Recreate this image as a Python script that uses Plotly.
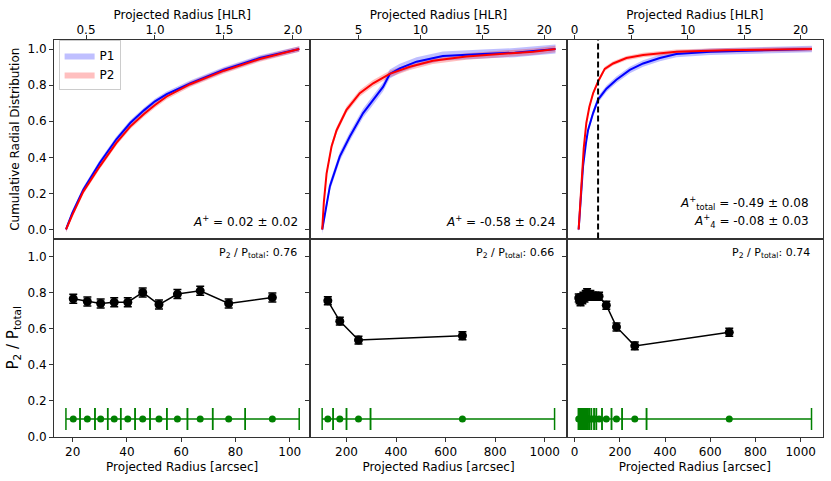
import plotly.graph_objects as go

FONT = "DejaVu Sans"

# ---------------- Top row: cumulative radial distributions (x in HLR) ----------------
TL_P1_X = [0.355, 0.40, 0.48, 0.60, 0.72, 0.82, 0.92, 1.00, 1.085, 1.255, 1.50, 1.76, 2.046]
TL_P1_Y = [0.00, 0.09, 0.22, 0.37, 0.50, 0.59, 0.66, 0.71, 0.75, 0.81, 0.885, 0.95, 1.00]
TL_P2_X = [0.355, 0.40, 0.48, 0.60, 0.72, 0.82, 0.92, 1.00, 1.085, 1.255, 1.50, 1.76, 2.046]
TL_P2_Y = [0.00, 0.08, 0.21, 0.35, 0.48, 0.57, 0.64, 0.69, 0.737, 0.805, 0.88, 0.945, 1.00]

TM_P1_X = [2.07, 2.40, 2.69, 3.49, 4.30, 5.37, 6.00, 6.98, 7.52, 8.33, 9.68, 11.8, 15.0, 17.6, 20.9]
TM_P1_Y = [0.00, 0.13, 0.24, 0.405, 0.515, 0.645, 0.70, 0.79, 0.862, 0.893, 0.93, 0.961, 0.972, 0.98, 1.00]
TM_P2_X = [2.07, 2.20, 2.42, 2.82, 3.23, 4.03, 5.10, 6.18, 7.52, 9.14, 11.0, 13.7, 16.4, 19.1, 20.9]
TM_P2_Y = [0.00, 0.15, 0.31, 0.46, 0.55, 0.663, 0.755, 0.81, 0.862, 0.902, 0.935, 0.958, 0.972, 0.985, 1.00]

TR_P1_X = [0.35, 0.50, 0.74, 1.00, 1.18, 1.63, 2.07, 2.81, 3.69, 4.88, 6.06, 7.54, 9.0, 12.0, 21.0]
TR_P1_Y = [0.00, 0.15, 0.35, 0.48, 0.55, 0.645, 0.72, 0.78, 0.83, 0.884, 0.92, 0.95, 0.972, 0.985, 1.00]
TR_P2_X = [0.35, 0.45, 0.59, 0.80, 1.03, 1.30, 1.63, 2.07, 2.66, 3.40, 4.58, 6.06, 9.0, 13.4, 21.0]
TR_P2_Y = [0.00, 0.10, 0.24, 0.45, 0.59, 0.68, 0.755, 0.82, 0.89, 0.92, 0.95, 0.967, 0.985, 0.993, 1.00]

# band half-widths (uncertainty envelopes)
TL_P1_ERR, TL_P2_ERR = 0.015, 0.015
TM_P1_ERR, TM_P2_ERR = 0.025, 0.018
TR_P1_ERR, TR_P2_ERR = 0.018, 0.012

TR_VLINE_HLR = 2.07

TOP_TEXT = ["<i>A</i><sup>+</sup> = 0.02 ± 0.02",
            "<i>A</i><sup>+</sup> = -0.58 ± 0.24"]
TR_TEXT1 = "<i>A</i><sup>+</sup><sub>total</sub> = -0.49 ± 0.08"
TR_TEXT2 = "<i>A</i><sup>+</sup><sub>4</sub> = -0.08 ± 0.03"

# ---------------- Bottom row: P2 / Ptotal vs radius (arcsec) ----------------
BL_X = [20.2, 25.4, 30.3, 35.3, 40.3, 45.8, 51.8, 58.6, 67.0, 77.5, 93.6]
BL_Y = [0.766, 0.751, 0.740, 0.747, 0.747, 0.801, 0.734, 0.792, 0.810, 0.740, 0.773]
BL_E = [0.025, 0.025, 0.025, 0.025, 0.025, 0.025, 0.025, 0.025, 0.025, 0.025, 0.025]
BL_EDGES = [17.5, 22.7, 28.2, 32.9, 37.7, 43.0, 48.5, 54.7, 62.3, 71.6, 83.6, 103.5]

BM_X = [124.6, 173.0, 248.4, 668.0]
BM_Y = [0.755, 0.642, 0.537, 0.561]
BM_E = [0.022, 0.022, 0.022, 0.022]
BM_EDGES = [101.7, 146.0, 200.0, 297.0, 1040.0]

BR_X = [18, 22, 26, 30, 34, 38.5, 43.5, 49, 55, 61.5, 69.5, 80, 91, 108, 140, 185, 266, 684]
BR_Y = [0.77, 0.76, 0.75, 0.77, 0.76, 0.78, 0.77, 0.79, 0.80, 0.78, 0.79, 0.78, 0.78, 0.78,
        0.73, 0.61, 0.505, 0.58]
BR_E = [0.022] * 18
BR_EDGES = [16, 20, 24, 28, 32, 36, 41, 46, 52, 58, 65, 74, 86, 96, 121, 163, 210, 318, 1048]

BIN_Y = 0.1
FRACS = ["0.76", "0.66", "0.74"]

# ---------------- axes ranges / ticks ----------------
TOP_XRANGES = [[0.268, 2.126], [1.11, 21.8], [-0.71, 21.98]]
TOP_XTICKS = [[0.5, 1.0, 1.5, 2.0], [5, 10, 15, 20], [0, 5, 10, 15, 20]]
TOP_XFMT = [".1f", "d", "d"]
BOT_XRANGES = [[13.1, 107.6], [54.0, 1088.8], [-35.4, 1098.8]]
BOT_XTICKS = [[20, 40, 60, 80, 100], [200, 400, 600, 800, 1000], [0, 200, 400, 600, 800, 1000]]

BLUE = "#0000ff"
RED = "#ff0000"
BLUE_FILL = "rgba(0,0,255,0.25)"
RED_FILL = "rgba(255,0,0,0.25)"
GREEN = "#008000"
AXC = "#333333"

fig = go.Figure()


def add_band(x, y, hw, fill, name, xa, ya, showleg):
    up = [v + hw for v in y]
    lo = [v - hw for v in y]
    fig.add_trace(go.Scatter(x=list(x) + list(x)[::-1], y=up + lo[::-1], fill="toself",
                             fillcolor=fill, line=dict(width=0), mode="lines", name=name,
                             showlegend=showleg, xaxis=xa, yaxis=ya, hoverinfo="skip"))


def add_line(x, y, color, xa, ya):
    fig.add_trace(go.Scatter(x=x, y=y, mode="lines", line=dict(color=color, width=2),
                             showlegend=False, xaxis=xa, yaxis=ya))


tops = [
    (TL_P1_X, TL_P1_Y, TL_P1_ERR, TL_P2_X, TL_P2_Y, TL_P2_ERR),
    (TM_P1_X, TM_P1_Y, TM_P1_ERR, TM_P2_X, TM_P2_Y, TM_P2_ERR),
    (TR_P1_X, TR_P1_Y, TR_P1_ERR, TR_P2_X, TR_P2_Y, TR_P2_ERR),
]
for i, (x1, y1, e1, x2, y2, e2) in enumerate(tops):
    xa = "x" if i == 0 else f"x{i+1}"
    ya = "y" if i == 0 else f"y{i+1}"
    add_band(x1, y1, e1, BLUE_FILL, "P1", xa, ya, i == 0)
    add_band(x2, y2, e2, RED_FILL, "P2", xa, ya, i == 0)
    add_line(x1, y1, BLUE, xa, ya)
    add_line(x2, y2, RED, xa, ya)

bots = [(BL_X, BL_Y, BL_E, BL_EDGES), (BM_X, BM_Y, BM_E, BM_EDGES), (BR_X, BR_Y, BR_E, BR_EDGES)]
for i, (x, y, e, edges) in enumerate(bots):
    xa = f"x{i+4}"
    ya = f"y{i+4}"
    plus = [edges[k + 1] - x[k] for k in range(len(x))]
    minus = [x[k] - edges[k] for k in range(len(x))]
    fig.add_trace(go.Scatter(
        x=x, y=[BIN_Y] * len(x), mode="markers",
        marker=dict(color=GREEN, size=7),
        error_x=dict(type="data", array=plus, arrayminus=minus, symmetric=False,
                     color=GREEN, thickness=1.5, width=11),
        showlegend=False, xaxis=xa, yaxis=ya))
    fig.add_trace(go.Scatter(
        x=x, y=y, mode="lines+markers",
        line=dict(color="black", width=1.5),
        marker=dict(color="black", size=9),
        error_y=dict(type="data", array=e, color="black", thickness=1.5, width=4),
        showlegend=False, xaxis=xa, yaxis=ya))

layout = dict(
    width=831, height=481,
    margin=dict(l=54, r=8, t=40, b=44),
    paper_bgcolor="white", plot_bgcolor="white",
    font=dict(family=FONT, size=12, color="black"),
    showlegend=True,
    legend=dict(x=0.006, y=1.0, xanchor="left", yanchor="top",
                bgcolor="rgba(255,255,255,0.8)", bordercolor="#cccccc", borderwidth=1,
                font=dict(size=12, family=FONT), itemwidth=30, tracegroupgap=0),
)

doms = [[0.0, 1 / 3], [1 / 3, 2 / 3], [2 / 3, 1.0]]
common = dict(showline=True, linecolor=AXC, linewidth=1, mirror=True, showgrid=False,
              zeroline=False, ticks="outside", ticklen=4, tickwidth=1, tickcolor=AXC,
              tickfont=dict(size=12, family=FONT), automargin=False)

for i in range(3):
    xk = "xaxis" if i == 0 else f"xaxis{i+1}"
    yk = "yaxis" if i == 0 else f"yaxis{i+1}"
    ya_ref = "y" if i == 0 else f"y{i+1}"
    xa_ref = "x" if i == 0 else f"x{i+1}"
    layout[xk] = dict(common, domain=doms[i], anchor=ya_ref, side="top",
                      range=TOP_XRANGES[i], tickvals=TOP_XTICKS[i], tickformat=TOP_XFMT[i],
                      ticklabelstandoff=-4,
                      title=dict(text="Projected Radius [HLR]", standoff=1,
                                 font=dict(size=12, family=FONT)))
    layout[yk] = dict(common, domain=[0.5, 1.0], anchor=xa_ref, range=[-0.05, 1.05],
                      tickvals=[0, 0.2, 0.4, 0.6, 0.8, 1.0], tickformat=".1f",
                      showticklabels=(i == 0))
    if i == 0:
        layout[yk]["title"] = dict(text="Cumulative Radial Distribution", standoff=5,
                                   font=dict(size=12, family=FONT))
    bxk = f"xaxis{i+4}"
    byk = f"yaxis{i+4}"
    layout[bxk] = dict(common, domain=doms[i], anchor=f"y{i+4}", side="bottom",
                       range=BOT_XRANGES[i], tickvals=BOT_XTICKS[i], tickformat="d",
                       title=dict(text="Projected Radius [arcsec]", standoff=4,
                                  font=dict(size=12, family=FONT)))
    layout[byk] = dict(common, domain=[0.0, 0.5], anchor=f"x{i+4}", range=[0, 1.1],
                       tickvals=[0, 0.2, 0.4, 0.6, 0.8, 1.0], tickformat=".1f",
                       showticklabels=(i == 0))
    if i == 0:
        layout[byk]["title"] = dict(text="P<sub>2</sub> / P<sub>total</sub>", standoff=5,
                                    font=dict(size=15, family=FONT))

fig.update_layout(**layout)

# dashed vertical line in top-right panel
fig.add_shape(type="line", xref="x3", yref="y3 domain", x0=TR_VLINE_HLR, x1=TR_VLINE_HLR,
              y0=0, y1=1, line=dict(color="black", width=2, dash="6px,3px"))

ann_font = dict(size=12, family=FONT, color="black")
fig.add_annotation(text=TOP_TEXT[0], xref="x domain", yref="y", x=1, y=0.046,
                   xanchor="right", yanchor="middle", xshift=-10, showarrow=False, font=ann_font)
fig.add_annotation(text=TOP_TEXT[1], xref="x2 domain", yref="y2", x=1, y=0.046,
                   xanchor="right", yanchor="middle", xshift=-10, showarrow=False, font=ann_font)
fig.add_annotation(text=TR_TEXT1, xref="x3 domain", yref="y3", x=1, y=0.145,
                   xanchor="right", yanchor="middle", xshift=-12, showarrow=False, font=ann_font)
fig.add_annotation(text=TR_TEXT2, xref="x3 domain", yref="y3", x=1, y=0.045,
                   xanchor="right", yanchor="middle", xshift=-12, showarrow=False, font=ann_font)

frac_font = dict(size=11, family=FONT, color="black")
for i in range(3):
    fig.add_annotation(text=f"P<sub>2</sub> / P<sub>total</sub>: {FRACS[i]}",
                       xref=f"x{i+4} domain", yref=f"y{i+4}", x=1, y=1.019,
                       xanchor="right", yanchor="middle", xshift=-11, showarrow=False,
                       font=frac_font)

# remove the browser's default 8px body margin so the figure sits at the page origin
fig.write_html("out.html", config={"displayModeBar": False},
               post_script="document.body.style.margin='0px';")
